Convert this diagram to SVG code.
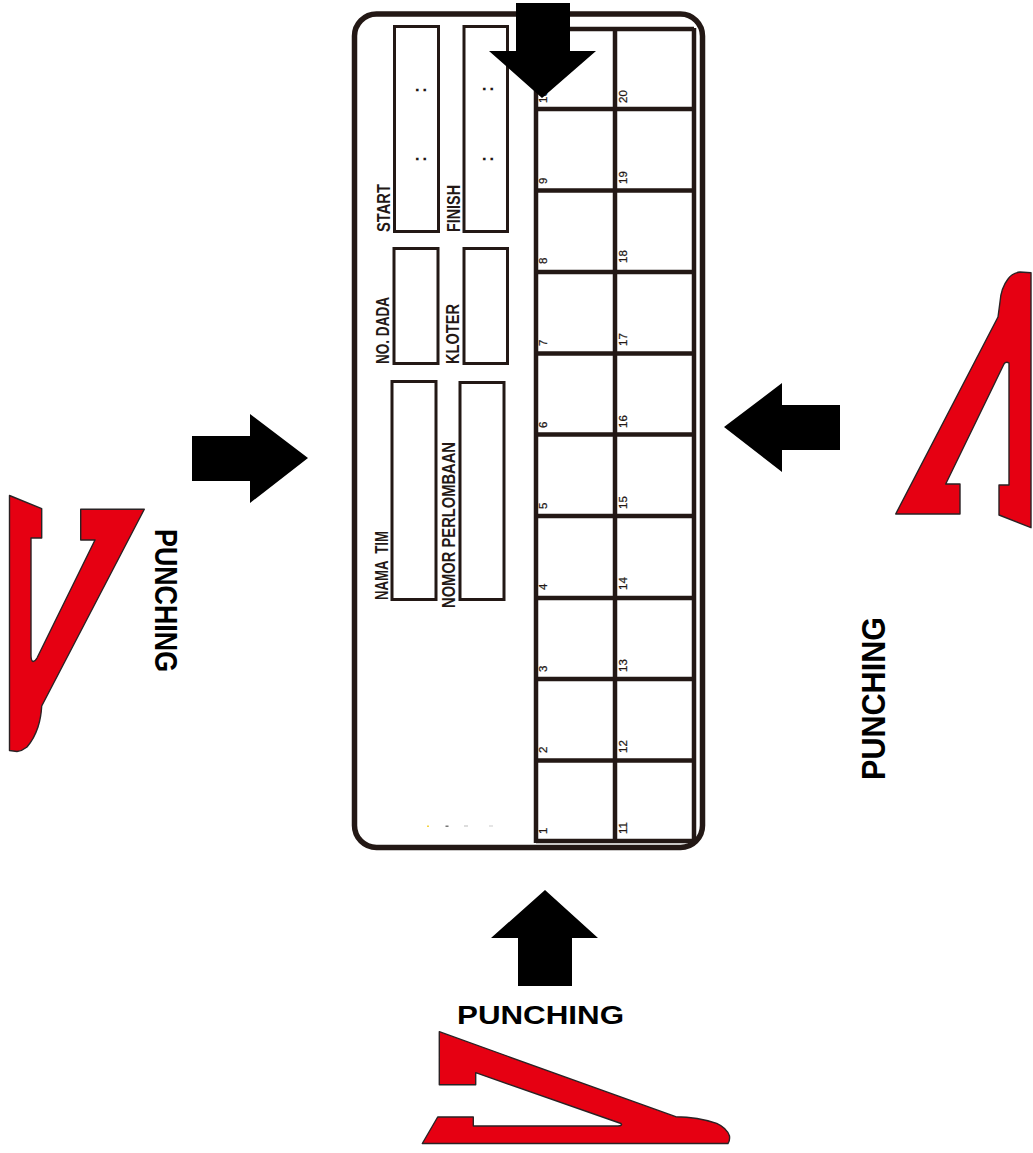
<svg xmlns="http://www.w3.org/2000/svg" width="1033" height="1153" viewBox="0 0 1033 1153">
<style>
.box{fill:none;stroke:#231815;stroke-width:3}
.grid{fill:none;stroke:#231815;stroke-width:4.500}
.arrow{fill:#000}
.red{fill:#e60012;stroke:#2a2224;stroke-width:1.400;stroke-linejoin:round}
text{font-family:"Liberation Sans",Arial,sans-serif;fill:#231815}
.lab{font-size:19px;font-weight:bold;stroke:none;white-space:pre}
.num text{font-size:11.500px;stroke:#231815;stroke-width:.25}
.dot{font-size:18px;font-weight:bold}
.pun{font-weight:bold;fill:#000}
</style>
<rect width="1033" height="1153" fill="#fff"/>
<g id="card"><rect x="354.500" y="14" width="348" height="833.500" rx="22" ry="22" fill="none" stroke="#231815" stroke-width="5.500"/></g>
<g id="grid">
<path class="grid" d="M536 28V843M615 28V841M694 28V841M536 29H694M536 109H694M536 190.500H694M536 272H694M536 353.500H694M536 434.500H694M536 516H694M536 598H694M536 679H694M536 760.500H694M536 841H694"/>
<g class="num">
<text transform="translate(547 834) rotate(-90)">1</text><text transform="translate(547 753) rotate(-90)">2</text><text transform="translate(547 672) rotate(-90)">3</text><text transform="translate(547 590) rotate(-90)">4</text><text transform="translate(547 509) rotate(-90)">5</text><text transform="translate(547 428) rotate(-90)">6</text><text transform="translate(547 346) rotate(-90)">7</text><text transform="translate(547 264) rotate(-90)">8</text><text transform="translate(547 184) rotate(-90)">9</text><text transform="translate(547 103) rotate(-90)">10</text>
<text transform="translate(627 834) rotate(-90)">11</text><text transform="translate(627 753) rotate(-90)">12</text><text transform="translate(627 672) rotate(-90)">13</text><text transform="translate(627 590) rotate(-90)">14</text><text transform="translate(627 509) rotate(-90)">15</text><text transform="translate(627 428) rotate(-90)">16</text><text transform="translate(627 346) rotate(-90)">17</text><text transform="translate(627 263) rotate(-90)">18</text><text transform="translate(627 184) rotate(-90)">19</text><text transform="translate(627 103) rotate(-90)">20</text>
</g>
</g>
<g id="start"><rect class="box" x="394.500" y="26.500" width="44" height="205"/>
<text class="lab" transform="translate(390 232) rotate(-90)" textLength="48" lengthAdjust="spacingAndGlyphs">START</text>
<text class="dot" transform="translate(426 93) rotate(-90)">:</text><text class="dot" transform="translate(426 162) rotate(-90)">:</text></g>
<g id="finish"><rect class="box" x="464" y="26.500" width="43.500" height="205"/>
<text class="lab" transform="translate(460 232) rotate(-90)" textLength="47" lengthAdjust="spacingAndGlyphs">FINISH</text>
<text class="dot" transform="translate(493 92) rotate(-90)">:</text><text class="dot" transform="translate(493 162) rotate(-90)">:</text></g>
<g id="no-dada"><rect class="box" x="394" y="248.500" width="44" height="115"/>
<text class="lab" transform="translate(389 364) rotate(-90)" textLength="67" lengthAdjust="spacingAndGlyphs">NO. DADA</text></g>
<g id="kloter"><rect class="box" x="464" y="248.500" width="43.500" height="115"/>
<text class="lab" transform="translate(459 364) rotate(-90)" textLength="60" lengthAdjust="spacingAndGlyphs">KLOTER</text></g>
<g id="nama-tim"><rect class="box" x="392" y="381.500" width="44" height="218"/>
<text class="lab" transform="translate(388 600) rotate(-90)" textLength="69" lengthAdjust="spacingAndGlyphs">NAMA  TIM</text></g>
<g id="nomor"><rect class="box" x="460" y="382.500" width="44" height="217"/>
<text class="lab" transform="translate(455 608) rotate(-90)" textLength="166" lengthAdjust="spacingAndGlyphs">NOMOR PERLOMBAAN</text></g>
<g id="specks"><rect x="427" y="825.500" width="2" height="1.500" fill="#f5d442"/><rect x="445.500" y="825.500" width="3" height="1.500" fill="#777"/><rect x="464" y="825.500" width="4" height="1" fill="#bbb"/><rect x="489" y="825.500" width="4" height="1" fill="#ccc"/></g>
<g id="connectors">
<polygon class="arrow" points="516,3 570,3 570,51 596,51 542,98 489,51 516,51"/>
<polygon class="arrow" points="192,436 250,436 250,414 308,458 250,503 250,481 192,481"/>
<polygon class="arrow" points="840,405 782,405 782,383 724,427 782,472 782,450 840,450"/>
<polygon class="arrow" points="545,890 598,938 572,938 572,986 518,986 518,938 491,938"/>
</g>
<g id="punch-left">
<path class="red" d="M9.500 495.500L41.700 508.700V538H31V655Q31 661 33 661.500Q35 661.500 37 658L95 540H80.700V509.300H144.300L41.700 706Q41 718 38 727Q34 739 27 747Q22 751 17 751.500L9.500 750.500Z"/>
<text class="pun" font-size="32" transform="translate(155 529) rotate(90)" textLength="143" lengthAdjust="spacingAndGlyphs">PUNCHING</text>
</g>
<g id="punch-right">
<path class="red" d="M1031 272.700L1020 272Q1012 273 1008 279Q1001 288 1000 302L998 317L895.700 514H960V484H945.700L1004 364Q1006 361 1009 363V485H999V515L1031 527.700Z"/>
<text class="pun" font-size="33" transform="translate(885 780) rotate(-90)" textLength="163" lengthAdjust="spacingAndGlyphs">PUNCHING</text>
</g>
<g id="punch-bottom">
<path class="red" d="M439.300 1031.700L675.700 1116.700Q698 1117 716.700 1123.300Q727 1128 729.500 1136Q730 1141 728 1143.500H422.300L437.700 1117H473.300V1126H618Q623 1125.500 621 1123.500L475.700 1072.700V1084.700H439.300Z"/>
<text class="pun" font-size="25" x="457" y="1024" textLength="167" lengthAdjust="spacingAndGlyphs">PUNCHING</text>
</g>
</svg>
